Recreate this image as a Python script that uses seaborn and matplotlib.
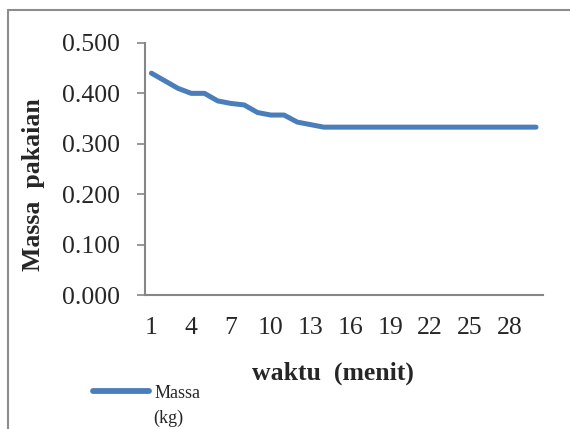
import numpy as np
import pandas as pd
import matplotlib
matplotlib.use("Agg")
import matplotlib.pyplot as plt
import seaborn as sns
from matplotlib.lines import Line2D

# data
waktu = list(range(1, 31))
massa = [0.440, 0.425, 0.410, 0.400, 0.400, 0.385, 0.380, 0.377, 0.362, 0.357,
         0.357, 0.343, 0.338, 0.333] + [0.333] * 16
xtick_labels = [1, 4, 7, 10, 13, 16, 19, 22, 25, 28]
yticks = [0.0, 0.1, 0.2, 0.3, 0.4, 0.5]

df = pd.DataFrame({'waktu': waktu, 'massa': massa})

sns.set_style("white")
plt.rcParams['font.family'] = ['Liberation Serif', 'DejaVu Serif']

fig = plt.figure(figsize=(5.7, 4.29), dpi=100)
ax = fig.add_axes([0.254, 0.312, 0.698, 0.588])

sns.lineplot(data=df, x='waktu', y='massa', ax=ax, color='#4A7EBB',
             linewidth=3.6, solid_capstyle='round', label='Massa', legend=False)

ax.set_xlim(0.5, 30.5)
ax.set_ylim(0, 0.5)
ax.set_yticks(yticks)
ax.set_yticklabels([f'{v:.3f}' for v in yticks], fontsize=18.5)
ax.set_xticks(xtick_labels)
ax.set_xticklabels([str(v) for v in xtick_labels], fontsize=18.5)
ax.tick_params(axis='y', length=5.5, width=1.2, color='#868686', direction='out', pad=12.5, left=True)
ax.tick_params(axis='x', length=0, pad=16)

for s in ['top', 'right']:
    ax.spines[s].set_visible(False)
for s in ['left', 'bottom']:
    ax.spines[s].set_color('#868686')
    ax.spines[s].set_linewidth(1.5)

ax.set_xlabel('waktu  (menit)', fontsize=18.5, fontweight='bold')
ax.set_ylabel('Massa  pakaian', fontsize=18.5, fontweight='bold')
ax.xaxis.set_label_coords(0.472, -0.262)
ax.yaxis.set_label_coords(-0.25, 0.437)

# legend: line handle with "Massa", unit on the next line
leg = fig.legend(loc='center left', bbox_to_anchor=(93 / 570, 1 - 393 / 429),
                 frameon=False, fontsize=13, handlelength=3.1, handletextpad=0.28,
                 borderpad=0, borderaxespad=0)
for line in leg.get_lines():
    line.set_linewidth(4.2)
fig.text(153 / 570, 1 - 418 / 429, '(kg)', fontsize=13, va='center', ha='left')

# outer chart frame
fig.add_artist(Line2D([0.014, 0.014], [0.0, 0.977], transform=fig.transFigure,
                      color='#8c8c8c', linewidth=1.5))
fig.add_artist(Line2D([0.014, 1.0], [0.977, 0.977], transform=fig.transFigure,
                      color='#8c8c8c', linewidth=1.5))

fig.savefig('out.png', dpi=100)
